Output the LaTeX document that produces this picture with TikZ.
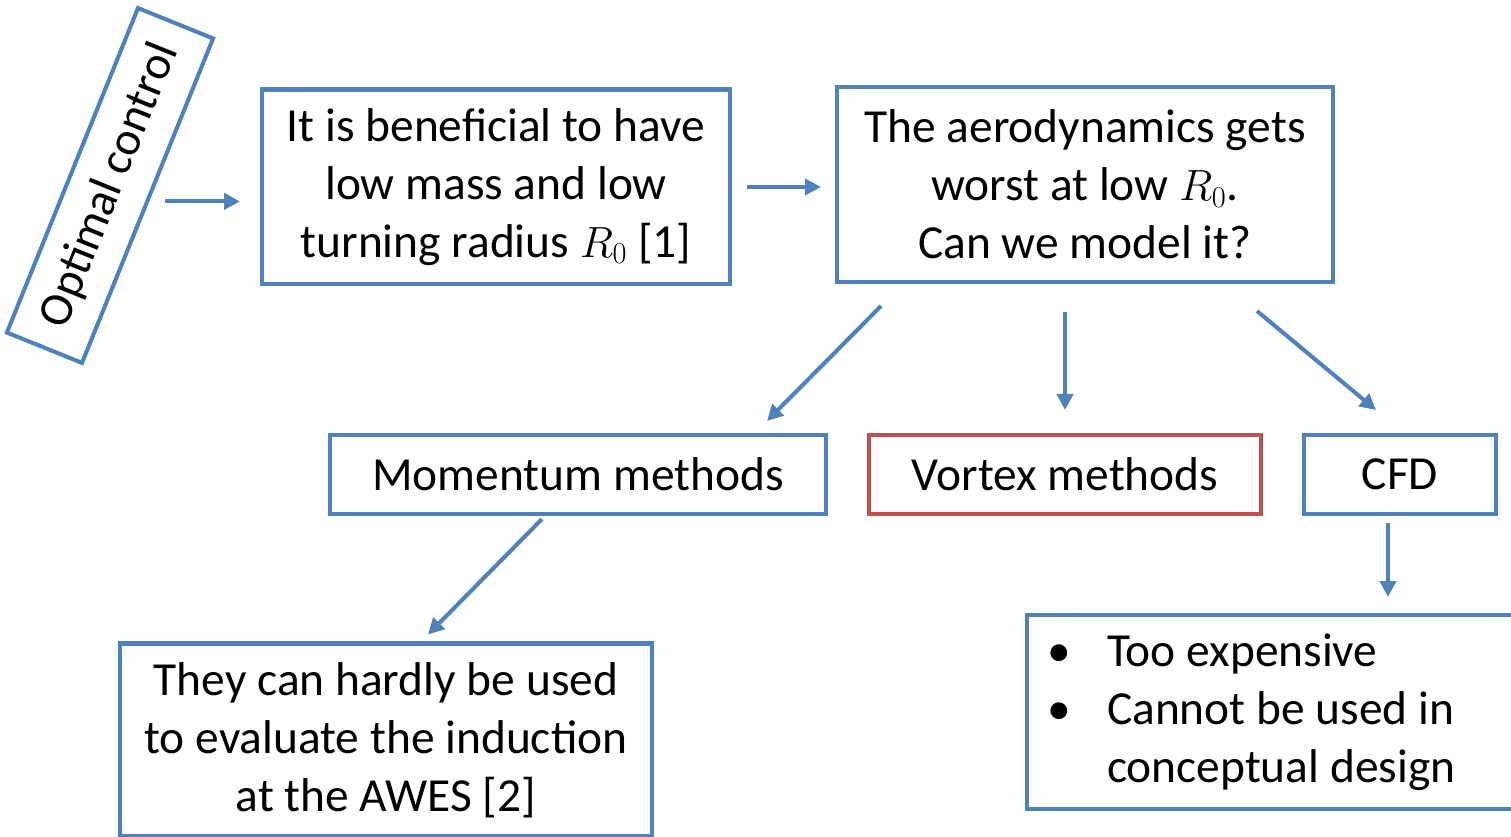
\documentclass[tikz,border=0pt]{standalone}
\usepackage{fontspec}
\setmainfont{Carlito}
\usetikzlibrary{arrows.meta,positioning,calc}
\definecolor{myblue}{RGB}{79,129,189}
\definecolor{myred}{RGB}{192,80,77}
\tikzset{
  box/.style={draw=myblue,line width=2.3pt,fill=white,align=center,inner sep=0pt,
    font=\fontsize{27}{33}\selectfont},
  redbox/.style={box,draw=myred},
  arr/.style={draw=myblue,line width=2.3pt,-{Triangle[length=0.32cm,width=0.32cm]}}
}

\begin{document}
\begin{tikzpicture}[x=0.02cm,y=-0.02cm]
  \useasboundingbox (0,0) rectangle (1511,837);
  % top row
  \node[box,rotate=68,minimum width=7cm,minimum height=1.62cm] (optctrl) at (110,185.5) {Optimal control};
  \node[box,minimum width=9.36cm,minimum height=3.9cm] (lowmass) at (496,187)
    {It is beneficial to have\\low mass and low\\turning radius $R_0$ [1]};
  \node[box,minimum width=9.92cm,minimum height=3.9cm] (aero) at (1085,184.5)
    {The aerodynamics gets\\worst at low $R_0$.\\Can we model it?};
  % methods
  \node[box,minimum width=9.92cm,minimum height=1.58cm] (momentum) at (578,474.5) {Momentum methods};
  \node[redbox,minimum width=7.84cm,minimum height=1.58cm] (vortex) at (1065,474.5) {Vortex methods};
  \node[box,minimum width=3.84cm,minimum height=1.58cm] (cfd) at (1400,474.5) {CFD};
  % consequences
  \node[box,minimum width=10.64cm,minimum height=3.86cm] (hardly) at (386,740)
    {They can hardly be used\\to evaluate the induction\\at the AWES [2]};
  \node[box,align=flush left,text width=9.26cm,inner xsep=0.4cm,minimum height=3.88cm] (costly) at (1278.5,712)
    {\makebox[1.2cm][l]{•}Too expensive\\
     \makebox[1.2cm][l]{•}Cannot be used in\\
     \hspace*{1.2cm}conceptual design};

  \draw[arr,shorten <=0.32cm,shorten >=0.4cm] (optctrl.south) -- (optctrl.south -| lowmass.west);
  \draw[arr,shorten <=0.3cm,shorten >=0.28cm] (lowmass.east) -- (lowmass.east -| aero.west);
  \draw[arr] ([xshift=0.92cm,yshift=-0.44cm]aero.south west) -- ([xshift=-1.22cm,yshift=0.24cm]momentum.north east);
  \draw[arr,shorten >=0.46cm] ([yshift=-0.56cm]vortex.north |- aero.south) -- (vortex.north);
  \draw[arr] ([xshift=-1.56cm,yshift=-0.54cm]aero.south east) -- ([xshift=1.48cm,yshift=0.46cm]cfd.north west);
  \draw[arr] ([xshift=-0.72cm,yshift=-0.06cm]momentum.south) -- ([xshift=0.84cm,yshift=0.14cm]hardly.north);
  \draw[arr,shorten >=0.32cm] ([xshift=-0.24cm,yshift=-0.14cm]cfd.south) -- ([xshift=-0.24cm]cfd.south |- costly.north);
\end{tikzpicture}
\end{document}
